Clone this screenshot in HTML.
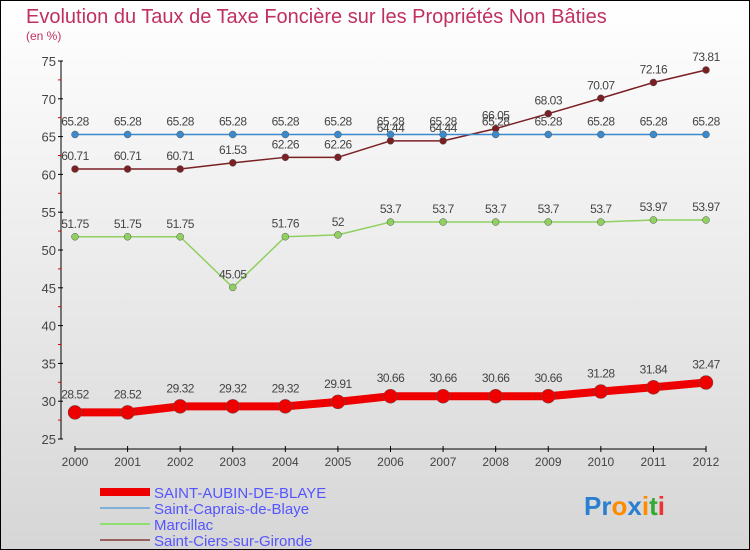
<!DOCTYPE html>
<html><head><meta charset="utf-8"><style>
body{margin:0}
#c{width:750px;height:550px;position:relative;overflow:hidden;font-family:"Liberation Sans",sans-serif}
</style></head><body>
<div id="c">
<svg id="s" width="750" height="550" xmlns="http://www.w3.org/2000/svg">
<defs><linearGradient id="bg" x1="0" y1="0" x2="0" y2="1"><stop offset="0" stop-color="#ffffff"/><stop offset="1" stop-color="#d6d6d6"/></linearGradient></defs>
<rect x="0.5" y="0.5" width="749" height="549" fill="url(#bg)" stroke="#000"/>
<text x="26" y="23" font-size="20" fill="#c0305f">Evolution du Taux de Taxe Foncière sur les Propriétés Non Bâties</text>
<text x="26" y="40" font-size="12" fill="#c0305f">(en %)</text>
<g id="axes"></g><g id="series"></g><g id="legend"></g>
<text x="584" y="515" font-size="26" font-weight="bold"><tspan fill="#2a7fd0">Pr</tspan><tspan fill="#ff8a00">o</tspan><tspan fill="#2a7fd0">x</tspan><tspan fill="#ff8a00">i</tspan><tspan fill="#3a3">t</tspan><tspan fill="#e33">i</tspan></text>
</svg></div>
<script>
const years=[2000,2001,2002,2003,2004,2005,2006,2007,2008,2009,2010,2011,2012];
const yTicks=[25,30,35,40,45,50,55,60,65,70,75];
const saintAubin=[28.52,28.52,29.32,29.32,29.32,29.91,30.66,30.66,30.66,30.66,31.28,31.84,32.47];
const saintCaprais=[65.28,65.28,65.28,65.28,65.28,65.28,65.28,65.28,65.28,65.28,65.28,65.28,65.28];
const marcillac=[51.75,51.75,51.75,45.05,51.76,52,53.7,53.7,53.7,53.7,53.7,53.97,53.97];
const saintCiers=[60.71,60.71,60.71,61.53,62.26,62.26,64.44,64.44,66.05,68.03,70.07,72.16,73.81];
const NS="http://www.w3.org/2000/svg";
const X=i=>75+i*(706-75)/(years.length-1);
const Y=v=>439-(v-25)*(439-61)/50;
function mk(t,a,p){const e=document.createElementNS(NS,t);for(const k in a)e.setAttribute(k,a[k]);p.appendChild(e);return e;}
const ax=document.getElementById('axes');
let e=mk('line',{x1:61,y1:Y(75),x2:61,y2:Y(25),stroke:'#000'},ax);


e=mk('line',{x1:X(0),y1:449,x2:X(12),y2:449,stroke:'#000'},ax);


yTicks.forEach(v=>{
 mk('line',{x1:58,y1:Y(v),x2:63,y2:Y(v),stroke:'#000'},ax);
 if(v<75)mk('line',{x1:58,y1:Y(v+2.5),x2:61,y2:Y(v+2.5),stroke:'#d00'},ax);
 const t=mk('text',{x:56,y:Y(v)+5,'font-size':13,fill:'#444','text-anchor':'end'},ax);t.textContent=v;
 
 
});
years.forEach((yr,i)=>{
 mk('line',{x1:X(i),y1:446,x2:X(i),y2:452,stroke:'#000'},ax);
 const t=mk('text',{x:X(i),y:466,'font-size':12,fill:'#444','text-anchor':'middle'},ax);t.textContent=yr;
 
 
});
const sg=document.getElementById('series');
function series(data,color,lw,r,name,dy){
 const g=mk('g',{},sg);
 
 
 mk('polyline',{points:data.map((v,i)=>X(i)+','+Y(v)).join(' '),fill:'none',stroke:color,'stroke-width':lw,'stroke-linejoin':'round'},g);
 data.forEach((v,i)=>{
  const c=mk('circle',{cx:X(i),cy:Y(v),r:r,fill:color,stroke:'#555','stroke-width':0.5},g);
  
  
  const t=mk('text',{x:X(i),y:Y(v)+dy,'font-size':12,fill:'#444','text-anchor':'middle','letter-spacing':'-0.5'},g);t.textContent=v;
  
  
 });
}
series(saintCiers,'#7a1f24',1.5,3.5,'series-saint-ciers',-9);
series(marcillac,'#8fd060',1.5,3.5,'series-marcillac',-9);
series(saintCaprais,'#3a8acd',1.5,3.5,'series-saint-caprais',-9);
series(saintAubin,'#ee0000',8,7,'series-saint-aubin',-14);
const lg=document.getElementById('legend');
const items=[['SAINT-AUBIN-DE-BLAYE','#ee0000',8],['Saint-Caprais-de-Blaye','#7fb0d8',2],['Marcillac','#90dd70',2],['Saint-Ciers-sur-Gironde','#9a6060',2]];
items.forEach((it,i)=>{
 const y=492+i*16;
 const g=mk('g',{},lg);
 
 
 mk('line',{x1:100,y1:y,x2:150,y2:y,stroke:it[1],'stroke-width':it[2]},g);
 const t=mk('text',{x:154,y:y+6,'font-size':15,fill:'#5555ff'},g);t.textContent=it[0];
});
</script>
</body></html>
